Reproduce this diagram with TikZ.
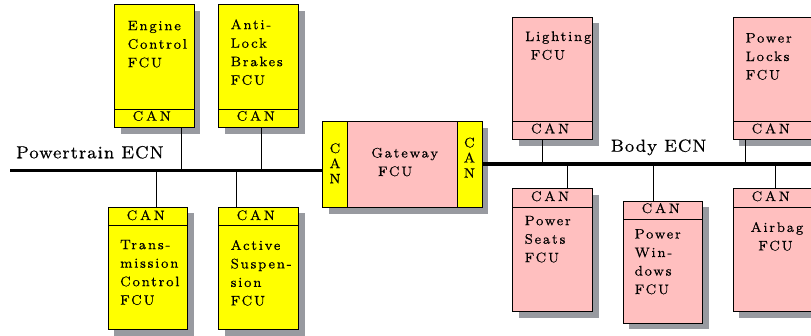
\documentclass[tikz,border=0pt]{standalone}
\usepackage{fontspec}
\setmainfont{lmroman8-regular.otf}[LetterSpace=13,FakeBold=0.4]
\newfontface\canfont{lmroman8-regular.otf}[LetterSpace=20,FakeBold=0.4]
\newfontface\plainfont{lmroman8-regular.otf}[FakeBold=0.4]
\newfontface\busfont{lmroman8-regular.otf}[LetterSpace=6,FakeBold=0.4]
\definecolor{fcuyellow}{RGB}{255,255,0}
\definecolor{fcupink}{RGB}{255,191,191}
\definecolor{shadowgray}{RGB}{152,154,160}
\tikzset{
  ybox/.style={draw=black, line width=0.8pt, fill=fcuyellow, minimum width=79.7pt, inner sep=0pt, anchor=north west},
  pbox/.style={draw=black, line width=0.8pt, fill=fcupink, minimum width=79.7pt, inner sep=0pt, anchor=north west},
  shade/.style={fill=shadowgray},
  lbl/.style={inner sep=0pt, anchor=base west, font=\fontsize{13.8}{18.5}\selectfont},
  canlbl/.style={inner sep=0pt, anchor=base west, font=\canfont\fontsize{13.8}{18.5}\selectfont},
  vcan/.style={inner sep=0pt, anchor=base, font=\plainfont\fontsize{13.8}{15.2}\selectfont},
  buslbl/.style={inner sep=0pt, anchor=base west, font=\busfont\fontsize{17.5}{20}\selectfont},
  bus/.style={line width=3.3pt},
  wire/.style={line width=0.8pt}
}
\newcommand{\lines}[1]{\begin{tabular}[t]{@{}l@{}}#1\end{tabular}}
\newcommand{\clines}[1]{\begin{tabular}[t]{@{}c@{}}#1\end{tabular}}
\begin{document}
\begin{tikzpicture}[x=1pt,y=-1pt]
\useasboundingbox (0,0) rectangle (811,335);
\clip (0,0) rectangle (811,335);
% shadows
\fill[shade] (120.5,10.8) rectangle (200.2,133.5);
\fill[shade] (224.8,10.8) rectangle (304.5,133.5);
\fill[shade] (114.2,213.2) rectangle (194.2,335.8);
\fill[shade] (224.8,213.2) rectangle (304.5,335.8);
\fill[shade] (328.8,127.5) rectangle (488.2,213.8);
\fill[shade] (518.8,23.2) rectangle (598.8,145.8);
\fill[shade] (739.2,23.2) rectangle (819.2,145.8);
\fill[shade] (518.8,194.8) rectangle (598.8,317.5);
\fill[shade] (629.2,207.2) rectangle (708.8,329.2);
\fill[shade] (739.2,194.8) rectangle (819.2,317.5);
% Engine
\node[ybox, minimum height=104.4pt] (eng) at (114,4.3) {};
\node[ybox, minimum height=18.3pt] (engcan) at (114,108.7) {};
\node[lbl] (engt) at (127.5,30.2) {\lines{Engine\\Control\\FCU}};
\node[canlbl] (engct) at (132.5,120.7) {CAN};
% Anti-Lock
\node[ybox, minimum height=104.4pt] (abs) at (218.3,4.3) {};
\node[ybox, minimum height=18.3pt] (abscan) at (218.3,108.7) {};
\node[lbl] (abst) at (230.5,29.2) {\lines{Anti-\\Lock\\Brakes\\FCU}};
\node[canlbl] (absct) at (236.5,120.7) {CAN};
% Transmission
\node[ybox, minimum height=18.3pt] (trcan) at (107.7,206.7) {};
\node[ybox, minimum height=104.3pt] (tr) at (107.7,225) {};
\node[lbl] (trt) at (120,249.2) {\lines{Trans-\\mission\\Control\\FCU}};
\node[canlbl] (trct) at (126.5,220) {CAN};
% Active Suspension
\node[ybox, minimum height=18.3pt] (ascan) at (218.3,206.7) {};
\node[ybox, minimum height=104.3pt] (as) at (218.3,225) {};
\node[lbl] (ast) at (230.5,249.9) {\lines{Active\\Suspen-\\sion\\FCU}};
\node[canlbl] (asct) at (236.5,220) {CAN};
% Gateway
\node[ybox, minimum width=25pt, minimum height=86.3pt] (gwl) at (322.3,121) {};
\node[pbox, minimum width=110pt, minimum height=86.3pt] (gw) at (347.3,121) {};
\node[ybox, minimum width=24.4pt, minimum height=86.3pt] (gwr) at (457.3,121) {};
\node[lbl] (gwt) at (371.2,157.5) {\lines{Gateway\\\hspace{6.6pt}FCU}};
\node[vcan] (gwlt) at (335,153) {\clines{C\\A\\N}};
\node[vcan] (gwrt) at (469.4,147.3) {\clines{C\\A\\N}};
% Lighting
\node[pbox, minimum height=104.3pt] (li) at (512.3,16.7) {};
\node[pbox, minimum height=18.3pt] (lican) at (512.3,121) {};
\node[lbl] (lit) at (525,41) {\lines{Lighting\\\hspace{5.5pt}FCU}};
\node[canlbl] (lict) at (530.8,133.3) {CAN};
% Power Locks
\node[pbox, minimum height=104.3pt] (pl) at (732.7,16.7) {};
\node[pbox, minimum height=18.3pt] (plcan) at (732.7,121) {};
\node[lbl] (plt) at (745.5,42.5) {\lines{Power\\Locks\\FCU}};
\node[canlbl] (plct) at (751.5,133.3) {CAN};
% Power Seats
\node[pbox, minimum height=18.4pt] (pscan) at (512.3,188.3) {};
\node[pbox, minimum height=104.3pt] (ps) at (512.3,206.7) {};
\node[lbl] (pst) at (524.5,225.2) {\lines{Power\\Seats\\FCU}};
\node[canlbl] (psct) at (530.8,201) {CAN};
% Power Windows
\node[pbox, minimum height=18.3pt] (pwcan) at (622.7,200.7) {};
\node[pbox, minimum height=103.7pt] (pw) at (622.7,219) {};
\node[lbl] (pwt) at (634.5,238.5) {\lines{Power\\Win-\\dows\\FCU}};
\node[canlbl] (pwct) at (641.5,213) {CAN};
% Airbag
\node[pbox, minimum height=18.4pt] (abcan) at (732.7,188.3) {};
\node[pbox, minimum height=104.3pt] (ab) at (732.7,206.7) {};
\node[lbl] (abt) at (750.5,231.9) {\lines{Airbag\\\hspace{7.6pt}FCU}};
\node[canlbl] (abct) at (751.5,201) {CAN};
% buses
\coordinate (ptl) at (10,170.7);
\coordinate (bdr) at (820,164);
\draw[bus] (ptl) -- (ptl -| gwl.west);
\draw[bus] (gwr.east |- bdr) -- (bdr);
\node[buslbl] (ptn) at (16,158.3) {Powertrain ECN};
\node[buslbl] (bdn) at (610.5,151.7) {Body ECN};
% connectors
\coordinate (x1) at (181.7,0);
\coordinate (x2) at (261,0);
\coordinate (x3) at (156.7,0);
\coordinate (x4) at (236.7,0);
\coordinate (x5) at (542.7,0);
\coordinate (x6) at (745.3,0);
\coordinate (x7) at (567.7,0);
\coordinate (x8) at (653.3,0);
\coordinate (x9) at (775.7,0);
\draw[wire] (engcan.south -| x1) -- (ptl -| x1);
\draw[wire] (abscan.south -| x2) -- (ptl -| x2);
\draw[wire] (trcan.north -| x3) -- (ptl -| x3);
\draw[wire] (ascan.north -| x4) -- (ptl -| x4);
\draw[wire] (lican.south -| x5) -- (bdr -| x5);
\draw[wire] (plcan.south -| x6) -- (bdr -| x6);
\draw[wire] (pscan.north -| x7) -- (bdr -| x7);
\draw[wire] (pwcan.north -| x8) -- (bdr -| x8);
\draw[wire] (abcan.north -| x9) -- (bdr -| x9);
\end{tikzpicture}
\end{document}
